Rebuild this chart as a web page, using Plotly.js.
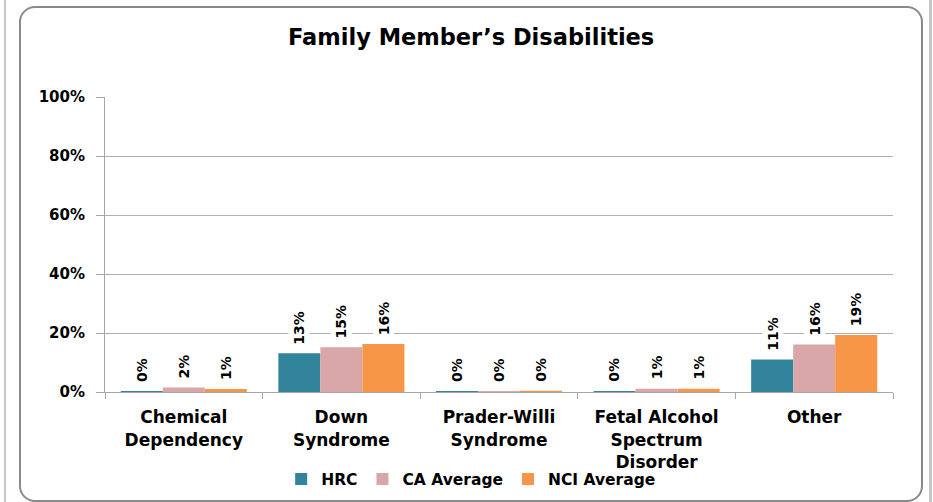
<!DOCTYPE html>
<html>
<head>
<meta charset="utf-8">
<script src="https://cdn.plot.ly/plotly-3.0.1.min.js"></script>
<style>
  html, body { margin: 0; padding: 0; background: #fff; }
  #wrap { position: relative; width: 933px; height: 502px; overflow: hidden; }
  #chart { position: absolute; left: 0; top: 0; width: 933px; height: 502px; }
  #frame { position: absolute; left: 19px; top: 6px; width: 900px; height: 492px;
           border: 2px solid #8a8a8a; border-radius: 16px; pointer-events: none; z-index: 5; }
  #lineL { position: absolute; left: 4px; top: 0; width: 2px; height: 502px; background: #c8c8c8; z-index: 5; }
  #lineR { position: absolute; left: 929px; top: 0; width: 3px; height: 502px; background: #c8c8c8; z-index: 5; }
</style>
</head>
<body>
<div id="wrap">
  <div id="chart"></div>
  <div id="frame"></div>
  <div id="lineL"></div>
  <div id="lineR"></div>
</div>
<script>
// ---- data ----
const categories = [
  "Chemical<br>Dependency",
  "Down<br>Syndrome",
  "Prader-Willi<br>Syndrome",
  "Fetal Alcohol<br>Spectrum<br>Disorder",
  "Other"
];
const seriesNames = ["HRC", "CA Average", "NCI Average"];
const hrcValues = [0.3, 13.1, 0.3, 0.3, 11.0];
const caValues  = [1.5, 15.2, 0.3, 1.1, 16.1];
const nciValues = [1.0, 16.3, 0.4, 1.1, 19.3];
const hrcLabels = ["0%", "13%", "0%", "0%", "11%"];
const caLabels  = ["2%", "15%", "0%", "1%", "16%"];
const nciLabels = ["1%", "16%", "0%", "1%", "19%"];
const yTickVals = [0, 20, 40, 60, 80, 100];
const yTickText = ["0%", "20%", "40%", "60%", "80%", "100%"];

const colors = ["#31849B", "#D9A7A8", "#F79646"];
const allValues = [hrcValues, caValues, nciValues];
const allLabels = [hrcLabels, caLabels, nciLabels];
const FONT = "DejaVu Sans, sans-serif";

const traces = allValues.map((vals, i) => ({
  type: "bar",
  name: seriesNames[i],
  x: categories,
  y: vals,
  marker: { color: colors[i], line: { width: 0 } },
  hoverinfo: "skip"
}));

// plot-area geometry for label offsets
const marginL = 105, marginR = 40;
const plotW = 933 - marginL - marginR;
const catW = plotW / categories.length;
const bargap = 0.2;
const barW = catW * (1 - bargap) / 3;

const annotations = [];
allValues.forEach((vals, i) => {
  vals.forEach((v, j) => {
    annotations.push({
      x: categories[j], y: v, xref: "x", yref: "y",
      text: allLabels[i][j],
      showarrow: false,
      textangle: -90,
      xanchor: "center", yanchor: "bottom",
      xshift: (i - 1) * barW,
      yshift: 6,
      bgcolor: "#ffffff",
      borderpad: 2,
      font: { family: FONT, size: 14, color: "#000", weight: "bold" }
    });
  });
});

const layout = {
  width: 933, height: 502,
  margin: { l: marginL, r: marginR, t: 97, b: 110, autoexpand: false },
  paper_bgcolor: "#ffffff",
  plot_bgcolor: "#ffffff",
  font: { family: FONT, color: "#000" },
  title: {
    text: "<b>Family Member’s Disabilities</b>",
    font: { family: FONT, size: 22.5, color: "#000" },
    x: 0.505, xanchor: "center", y: 0.926, yanchor: "middle"
  },
  barmode: "group",
  bargap: bargap,
  bargroupgap: 0,
  showlegend: true,
  legend: {
    orientation: "h",
    xref: "container", yref: "container",
    x: 0.505, xanchor: "center",
    y: 0.045, yanchor: "middle",
    bgcolor: "rgba(0,0,0,0)",
    font: { family: FONT, size: 15.5, color: "#000", weight: "bold" },
    itemclick: false,
    tracegroupgap: 0
  },
  xaxis: {
    type: "category",
    automargin: false,
    showline: true, linecolor: "#a6a6a6", linewidth: 1,
    ticks: "outside", tickson: "boundaries", ticklen: 6, tickcolor: "#a6a6a6",
    tickfont: { family: FONT, size: 17, color: "#000", weight: "bold" },
    ticklabelstandoff: 10,
    showgrid: false,
    fixedrange: true
  },
  yaxis: {
    range: [0, 100],
    automargin: false,
    tickvals: yTickVals, ticktext: yTickText,
    showline: true, linecolor: "#a6a6a6", linewidth: 1,
    ticks: "outside", ticklen: 8, tickcolor: "#a6a6a6",
    showgrid: true, gridcolor: "#b0b0b0", gridwidth: 1,
    zeroline: false,
    tickfont: { family: FONT, size: 15, color: "#000", weight: "bold" },
    ticklabelstandoff: 8,
    fixedrange: true
  },
  annotations: annotations
};

Plotly.newPlot("chart", traces, layout, { displayModeBar: false, staticPlot: true });
</script>
</body>
</html>
